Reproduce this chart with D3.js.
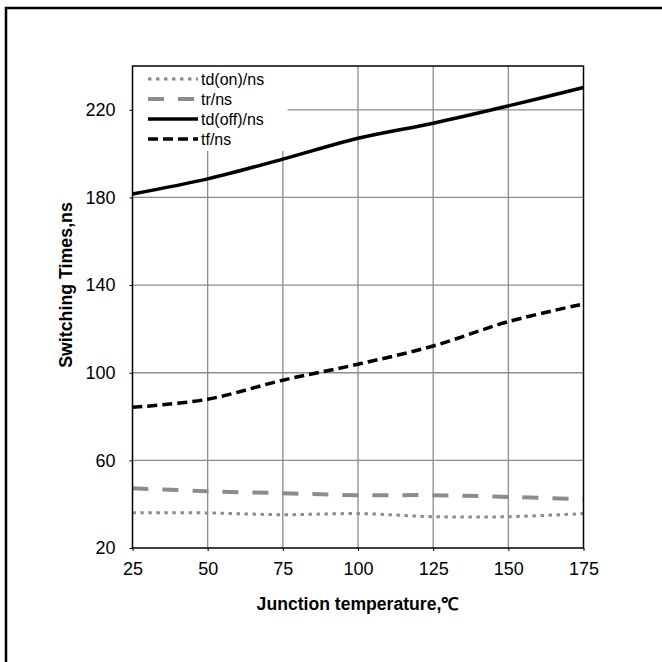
<!DOCTYPE html>
<html>
<head>
<meta charset="utf-8">
<script src="https://cdn.jsdelivr.net/npm/d3@7"></script>
<style>
  body { margin: 0; background: #fff; }
  text { font-family: "Liberation Sans", Arial, sans-serif; fill: #000; }
</style>
</head>
<body>
<div id="chart"></div>
<script>
/* Data */
var temps = [25, 50, 75, 100, 125, 150, 175];
var tdOn = [36.1, 36.0, 35.2, 35.7, 34.3, 34.3, 35.7];
var tr = [47.3, 45.9, 45.0, 44.1, 44.1, 43.3, 42.2];
var tdOff = [181.6, 188.5, 197.5, 207.0, 213.9, 221.8, 230.2];
var tf = [84.2, 87.9, 96.6, 103.9, 112.2, 123.3, 131.4];
var xTicks = [25, 50, 75, 100, 125, 150, 175];
var yTicks = [20, 60, 100, 140, 180, 220];

var series = [
  { label: "td(on)/ns", values: tdOn, color: "#8c8c8c", width: 3, dash: "3.5,4.5" },
  { label: "tr/ns", values: tr, color: "#8c8c8c", width: 4, dash: "16,14" },
  { label: "td(off)/ns", values: tdOff, color: "#000", width: 3.5, dash: null },
  { label: "tf/ns", values: tf, color: "#000", width: 3.5, dash: "10,5" }
];

var width = 662, height = 662;
var margin = { left: 132.5, top: 66, right: 662 - 583.5, bottom: 662 - 548 };

var svg = d3.select("#chart").append("svg")
  .attr("width", width)
  .attr("height", height);

// outer frame: only its top and left edges are inside the picture
svg.append("path")
  .attr("d", "M6,662V8H662")
  .attr("fill", "none").attr("stroke", "#000").attr("stroke-width", 2.5);

var x = d3.scaleLinear().domain([25, 175]).range([margin.left, width - margin.right]);
var y = d3.scaleLinear().domain([20, 240]).range([height - margin.bottom, margin.top]);

// grid
var grid = svg.append("g").attr("stroke", "#8c8c8c").attr("stroke-width", 1.3);
grid.selectAll("line.v").data(xTicks.slice(1, -1)).enter().append("line")
  .attr("x1", function(d) { return x(d); }).attr("x2", function(d) { return x(d); })
  .attr("y1", y(20)).attr("y2", y(240));
grid.selectAll("line.h").data(yTicks.slice(1)).enter().append("line")
  .attr("x1", x(25)).attr("x2", x(175))
  .attr("y1", function(d) { return y(d); }).attr("y2", function(d) { return y(d); });

// axes
var xAxis = svg.append("g")
  .attr("transform", "translate(0," + y(20) + ")")
  .call(d3.axisBottom(x).tickValues(xTicks).tickSize(3).tickPadding(8));
var yAxis = svg.append("g")
  .attr("transform", "translate(" + x(25) + ",0)")
  .call(d3.axisLeft(y).tickValues(yTicks).tickSize(3).tickPadding(14));
[xAxis, yAxis].forEach(function(a) {
  a.select(".domain").remove();
  a.selectAll("line").attr("stroke", "#000").attr("stroke-width", 1);
  a.selectAll("text").style("font-size", "18px").attr("fill", "#000")
    .style("font-family", "'Liberation Sans', Arial, sans-serif");
});
xAxis.selectAll("text").attr("dy", "0.88em");

// lines
var line = d3.line()
  .x(function(d, i) { return x(temps[i]); })
  .y(function(d) { return y(d); })
  .curve(d3.curveCatmullRom);

svg.append("g").selectAll("path").data(series).enter().append("path")
  .attr("d", function(d) { return line(d.values); })
  .attr("fill", "none")
  .attr("stroke", function(d) { return d.color; })
  .attr("stroke-width", function(d) { return d.width; })
  .attr("stroke-dasharray", function(d) { return d.dash; });

// legend, white box covers grid
var legend = svg.append("g");
legend.append("rect")
  .attr("x", x(25) + 1).attr("y", y(240) + 1)
  .attr("width", 154).attr("height", 84)
  .attr("fill", "#fff");
var legendRows = [79, 99, 119, 139];
var item = legend.selectAll("g.item").data(series).enter().append("g")
  .attr("transform", function(d, i) { return "translate(0," + legendRows[i] + ")"; });
item.append("line")
  .attr("x1", 148).attr("x2", 198)
  .attr("stroke", function(d) { return d.color; })
  .attr("stroke-width", function(d) { return d.width; })
  .attr("stroke-dasharray", function(d) { return d.dash; });
item.append("text")
  .attr("x", 201).attr("dy", "0.35em")
  .style("font-size", "16px")
  .text(function(d) { return d.label; });

// plot border
svg.append("rect")
  .attr("x", x(25)).attr("y", y(240))
  .attr("width", x(175) - x(25)).attr("height", y(20) - y(240))
  .attr("fill", "none").attr("stroke", "#000").attr("stroke-width", 1.5);

// titles
svg.append("text")
  .attr("x", (x(25) + x(175)) / 2).attr("y", 604).attr("dy", "0.35em")
  .attr("text-anchor", "middle")
  .style("font-size", "17.6px").style("font-weight", "bold")
  .text("Junction temperature,℃");
svg.append("text")
  .attr("transform", "translate(66,285) rotate(-90)")
  .attr("dy", "0.35em")
  .attr("text-anchor", "middle")
  .style("font-size", "17.8px").style("font-weight", "bold")
  .text("Switching Times,ns");
</script>
</body>
</html>
